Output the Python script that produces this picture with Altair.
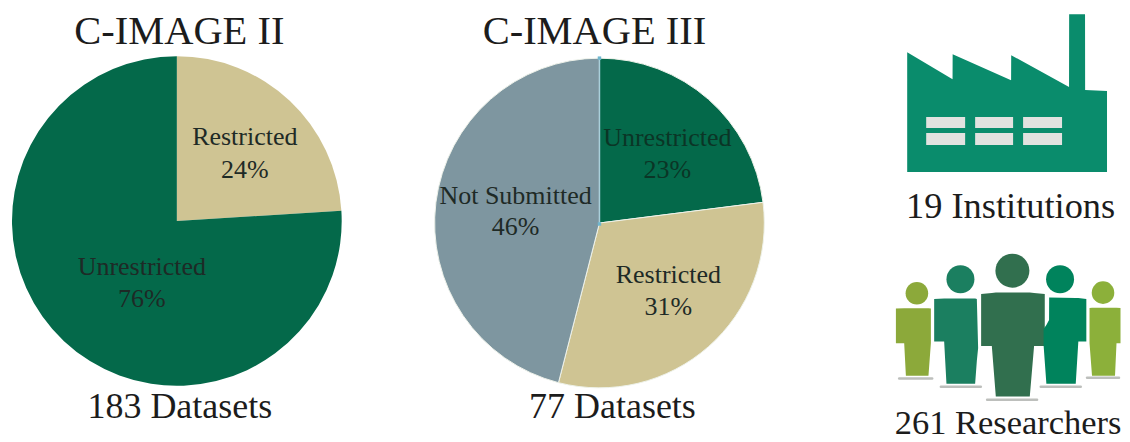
import altair as alt
import pandas as pd

FONT = "Liberation Serif"

# pies
pie1_cat = ["Restricted", "Unrestricted"]
pie1_val = [24, 76]
pie2_cat = ["Unrestricted", "Restricted", "Not Submitted"]
pie2_val = [23, 31, 46]
slice_domain = ["Restricted", "Unrestricted", "Not Submitted"]
slice_range = ["#CFC493", "#04694A", "#7E96A0"]

# texts: label, x centre, baseline y, size
txt = ["C-IMAGE II", "C-IMAGE III", "183 Datasets", "77 Datasets", "19 Institutions", "261 Researchers"]
txt_x = [179.5, 595, 180, 613, 1011.5, 1009]
txt_y = [44, 44, 418, 418, 218, 434]
txt_s = [40.5, 40.5, 36, 36, 36.4, 34.5]
lab = ["Restricted", "24%", "Unrestricted", "76%", "Not Submitted", "46%", "Restricted", "31%"]
lab_x = [245, 245, 142, 142, 516, 516, 669, 669]
lab_y = [145, 178, 275, 307, 204, 235, 283, 315]
lab2 = ["Unrestricted", "23%"]
lab2_x = [668, 668]
lab2_y = [146, 178]

# factory profile
fx = [908, 953.4, 953.5, 1012, 1012.1, 1070, 1070.1, 1086, 1086.1, 1108]
ftop = [52, 79, 54, 80, 55, 87, 14, 14, 90, 91]
fbot = [172] * 10
wx = [927, 976, 1024, 927, 976, 1024]
wx2 = [966, 1014, 1063, 966, 1014, 1063]
wy = [117, 117, 117, 133, 133, 133]
wy2 = [128, 128, 128, 145, 145, 145]

# people
people = {
    "p1": ([896.7, 905, 906.7, 929.3, 931.7], [308.5, 308.3, 308.3, 308.3, 308.5], [343.3, 343.3, 376, 376, 343.3]),
    "p2": ([935, 945, 947.3, 976, 977.7, 979], [299, 298.5, 298.5, 298.5, 299, 348], [341.7, 341.7, 384, 384, 361, 348]),
    "p3": ([982, 992.7, 996.7, 1030.7, 1035, 1045.7], [294, 293, 292.5, 292.5, 293, 294], [346, 346, 396.7, 396.7, 346, 346]),
    "p4": ([1044.5, 1047.3, 1050, 1050.1, 1076.7, 1079.3, 1087.3], [329, 325, 320, 297.5, 298, 298, 299], [345, 384, 384, 384, 384, 341.7, 341.7]),
    "p5": ([1090.5, 1093, 1116, 1117.5, 1121.5], [308, 307.7, 307.7, 307.7, 308], [343.3, 376, 376, 343.3, 343.3]),
}
head_k = ["p1", "p2", "p3", "p4", "p5"]
head_x = [917.7, 961.3, 1013.3, 1061, 1104]
head_y = [293.3, 279.3, 270.7, 279.3, 292.7]
head_r = [11.3, 14, 17, 14, 11.3]
person_colors = ["#8CA93A", "#1B7F60", "#316F4E", "#00835C", "#8CB03A"]
shadow_x = [900, 941.7, 988, 1041.7, 1088]
shadow_x2 = [933, 981.7, 1038, 1081.7, 1120]
shadow_y = [378.7, 387, 400, 387, 378]
handle_x = [600, 600]
handle_y = [58, 224]

X = alt.Scale(domain=[8, 1122], nice=False, zero=False)
Y = alt.Scale(domain=[442, 8], nice=False, zero=False)
x = lambda f="x": alt.X(f"{f}:Q", scale=X, axis=None)
y = lambda f="y": alt.Y(f"{f}:Q", scale=Y, axis=None)
TH = alt.Scale(domain=[0, 100], range=[0, 6.283185307])
PC = alt.Scale(domain=slice_domain, range=slice_range)
HC = alt.Scale(domain=head_k, range=person_colors)


def pie(cat, val, cx, cy, r, sw):
    d = pd.DataFrame({"c": cat, "v": val, "o": range(len(cat)), "x": cx, "y": cy})
    return alt.Chart(d).mark_arc(radius=r, stroke="#eef2ea", strokeWidth=sw).encode(
        x=x(), y=y(), theta=alt.Theta("v:Q", scale=TH, stack=True),
        color=alt.Color("c:N", scale=PC, legend=None), order=alt.Order("o:Q"))


def text_layer(t, xs, ys, sizes, color):
    d = pd.DataFrame({"t": t, "x": xs, "y": ys, "s": sizes})
    return alt.Chart(d).mark_text(font=FONT, baseline="alphabetic", align="center", color=color).encode(
        x=x(), y=y(), text="t:N", size=alt.Size("s:Q", scale=None))


layers = [pie(pie1_cat, pie1_val, 177, 221, 165, 0), pie(pie2_cat, pie2_val, 600, 223, 165, 1)]

seam = pd.DataFrame({"x": [600], "y": [58], "y2": [224]})
layers.append(alt.Chart(seam).mark_rule(color="#A9CFDA", strokeWidth=1.5).encode(x=x(), y=y(), y2="y2:Q"))
handles = pd.DataFrame({"x": handle_x, "y": handle_y})
layers.append(alt.Chart(handles).mark_square(color="#6FB7CF", size=12, opacity=1).encode(x=x(), y=y()))

factory = pd.DataFrame({"x": fx, "y": ftop, "y2": fbot})
layers.append(alt.Chart(factory).mark_area(color="#0A8C6C").encode(x=x(), y=y(), y2="y2:Q"))
windows = pd.DataFrame({"x": wx, "x2": wx2, "y": wy, "y2": wy2})
layers.append(alt.Chart(windows).mark_rect(color="#E2E2E0").encode(x=x(), x2="x2:Q", y=y(), y2="y2:Q"))

shadows = pd.DataFrame({"x": shadow_x, "x2": shadow_x2, "y": shadow_y})
layers.append(alt.Chart(shadows).mark_rule(color="#BDBFBC", strokeWidth=2.5, strokeCap="round").encode(x=x(), x2="x2:Q", y=y()))

for n, (k, (xs, tops, bots)) in enumerate(people.items()):
    d = pd.DataFrame({"x": xs, "y": tops, "y2": bots, "k": k, "i": range(len(xs))})
    enc = dict(x=x(), y=y(), y2="y2:Q", color=alt.Color("k:N", scale=HC, legend=None))
    layers.append(alt.Chart(d).mark_area().encode(**enc))

heads = pd.DataFrame({"k": head_k, "x": head_x, "y": head_y,
                      "s": [(2 * r) ** 2 for r in head_r]})
layers.append(alt.Chart(heads).mark_circle(opacity=1).encode(
    x=x(), y=y(), size=alt.Size("s:Q", scale=None),
    color=alt.Color("k:N", scale=HC, legend=None)))

layers.append(text_layer(txt, txt_x, txt_y, txt_s, "#1c1c1c"))
layers.append(text_layer(lab, lab_x, lab_y, [26] * len(lab), "#1e2a26"))
layers.append(text_layer(lab2, lab2_x, lab2_y, [26] * len(lab2), "#0B3526"))

chart = alt.layer(*layers).resolve_scale(color="independent").properties(
    width=1114, height=434, padding=0, background="white"
).configure_view(stroke=None)

chart.save("out.html", embed_options={"renderer": "svg", "actions": False})
